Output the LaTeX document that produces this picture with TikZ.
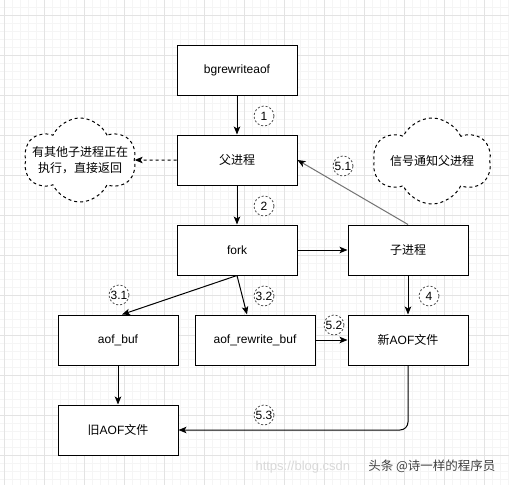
\documentclass[tikz,border=0pt]{standalone}
\usepackage{fontspec}
\setmainfont{Liberation Sans}
\newfontfamily\cjk{Noto Sans CJK SC}
\usetikzlibrary{shapes.symbols,arrows.meta}

\begin{document}
\begin{tikzpicture}[x=1pt,y=-1pt,font=\fontsize{12}{15}\selectfont]
\tikzstyle{minorline}=[black!4,line width=0.6pt]
\tikzstyle{majorline}=[black!11,line width=0.6pt]
\tikzstyle{proc}=[draw,line width=1pt,minimum width=120pt,minimum height=50pt,inner sep=0pt,fill=white]
\tikzstyle{bubble}=[cloud,draw,dash pattern=on 3pt off 3pt,line width=1pt,cloud puffs=6,cloud puff arc=130,aspect=1.3,minimum width=112pt,minimum height=84pt,inner sep=0pt,fill=white]
\tikzstyle{tag}=[circle,draw=black!70,dash pattern=on 2pt off 2pt,line width=0.8pt,fill=white,inner sep=0pt,minimum size=20pt]
\tikzstyle{flow}=[line width=1pt,-{Stealth[length=8pt,width=6.5pt,inset=2pt,black]}]

\useasboundingbox (0,0) rectangle (509,485);
\fill[white] (0,0) rectangle (509,485);

%background grid
\foreach \i in {0,...,63} \draw[minorline] (4+8*\i,0) -- (4+8*\i,485);
\foreach \j in {0,...,60} \draw[minorline] (0,7+8*\j) -- (509,7+8*\j);
\foreach \i in {0,...,12} \draw[majorline] (4+40*\i,0) -- (4+40*\i,485);
\foreach \j in {0,...,11} \draw[majorline] (0,15+40*\j) -- (509,15+40*\j);

%process boxes
\node[proc] (bgrw) at (237,70) {bgrewriteaof};
\node[proc] (parent) at (237,160) {\cjk 父进程};
\node[proc] (fork) at (237,250) {fork};
\node[proc] (child) at (408,250) {\cjk 子进程};
\node[proc] (aofbuf) at (118,340) {aof\_buf};
\node[proc] (rwbuf) at (255,340) {aof\_rewrite\_buf};
\node[proc] (newaof) at (408,340) {{\cjk 新}AOF{\cjk 文件}};
\node[proc] (oldaof) at (118,430) {{\cjk 旧}AOF{\cjk 文件}};

%clouds
\node[bubble,label={[align=center,font=\cjk\fontsize{12}{16}\selectfont]center:有其他子进程正在\\执行，直接返回}] (busy) at (80,160) {};
\node[bubble,minimum width=118pt,minimum height=86pt,label={[font=\cjk\fontsize{12}{15}\selectfont]center:信号通知父进程}] (notify) at (432,161) {};

%connectors
\draw[flow] (bgrw) -- (parent);
\draw[flow] (parent) -- (fork);
\draw[flow] (fork) -- (child);
\draw[flow] (fork.south) -- ([xshift=4pt]aofbuf.north);
\draw[flow] (fork.south) -- ([xshift=-8pt]rwbuf.north);
\draw[flow] (rwbuf) -- (newaof);
\draw[flow] (child) -- (newaof);
\draw[flow,black!55] (child.north) -- (parent.east);
\draw[flow] (aofbuf) -- (oldaof);
\draw[flow,rounded corners=8pt] (newaof.south) |- (oldaof.east);
\draw[flow,dash pattern=on 3pt off 3pt] (parent.west) -- (busy.east);

%step numbers
\node[tag] (t1) at (264,116) {1};
\node[tag] (t2) at (264,206) {2};
\node[tag] (t31) at (119,295) {3.1};
\node[tag] (t32) at (264,296) {3.2};
\node[tag] (t4) at (429,296) {4};
\node[tag] (t51) at (343,166) {5.1};
\node[tag] (t52) at (334,325) {5.2};
\node[tag] (t53) at (264,415) {5.3};

%watermark
\node[anchor=west,text=black!15,font=\fontsize{13}{15}\selectfont] (csdn) at (252,467) {https://blog.csdn};
\node[anchor=east,text=black!75,font=\cjk\fontsize{12.5}{15}\selectfont] (toutiao) at (499,466) {头条 @诗一样的程序员};
\end{tikzpicture}
\end{document}
